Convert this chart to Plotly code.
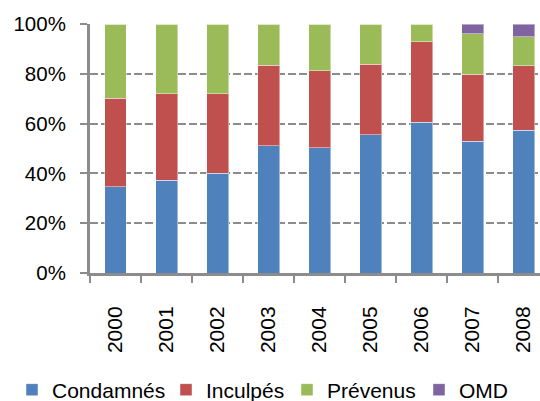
import plotly.graph_objects as go

years = ["2000", "2001", "2002", "2003", "2004", "2005", "2006", "2007", "2008"]

# Share of each category per year (percent of total)
condamnes = [34.7, 37.3, 40.0, 51.1, 50.3, 55.5, 60.6, 52.9, 57.3]
inculpes = [35.5, 34.6, 31.9, 32.3, 30.9, 28.4, 32.2, 27.0, 26.0]
prevenus = [29.8, 28.1, 28.1, 16.6, 18.8, 16.1, 7.2, 16.2, 11.6]
omd = [0.0, 0.0, 0.0, 0.0, 0.0, 0.0, 0.0, 3.9, 5.1]

series = [
    ("Condamnés", condamnes, "#4F81BD"),
    ("Inculpés", inculpes, "#C0504D"),
    ("Prévenus", prevenus, "#9BBB59"),
    ("OMD", omd, "#8064A2"),
]

# Horizontal position (container px) of each legend entry along the bottom row
legend_x_px = [12, 166, 287, 419]

W, H = 540, 401
font = "Liberation Sans, Arial, sans-serif"

fig = go.Figure()
legend_layout = {}
for i, ((name, vals, color), lx) in enumerate(zip(series, legend_x_px)):
    key = "legend" if i == 0 else f"legend{i + 1}"
    fig.add_trace(go.Bar(
        x=years, y=vals, name=name, legend=key,
        marker=dict(color=color, line=dict(color="rgba(255,255,255,0.45)", width=1)),
    ))
    legend_layout[key] = dict(
        orientation="h", xref="container", yref="container",
        x=lx / W, y=1 - 390 / H, xanchor="left", yanchor="middle",
        font=dict(size=21), bgcolor="rgba(0,0,0,0)",
        itemclick=False, itemdoubleclick=False,
    )

fig.update_layout(
    barmode="stack",
    bargap=0.57,
    width=W, height=H,
    margin=dict(l=90, r=0, t=24, b=128),
    paper_bgcolor="white", plot_bgcolor="white",
    font=dict(family=font, size=21, color="black"),
    showlegend=True,
    xaxis=dict(
        type="category", range=[-0.5, 8.32],
        tickangle=-90, tickson="boundaries",
        ticks="outside", ticklen=7, tickwidth=2, tickcolor="#8C8C8C",
        showline=True, linecolor="#8C8C8C", linewidth=3,
        showgrid=False, tickfont=dict(size=21),
        ticklabelstandoff=22,
    ),
    yaxis=dict(
        range=[0, 100], tickvals=[0, 20, 40, 60, 80, 100],
        ticktext=["0%", "20%", "40%", "60%", "80%", "100%"],
        ticks="outside", ticklen=7, tickwidth=2, tickcolor="#8C8C8C",
        showline=True, linecolor="#8C8C8C", linewidth=3,
        showgrid=True, gridcolor="#8C8C8C", gridwidth=2, griddash="8px,3px",
        zeroline=False, tickfont=dict(size=20.5),
        ticklabelstandoff=10,
    ),
    **legend_layout,
)

fig.write_html("out.html")
